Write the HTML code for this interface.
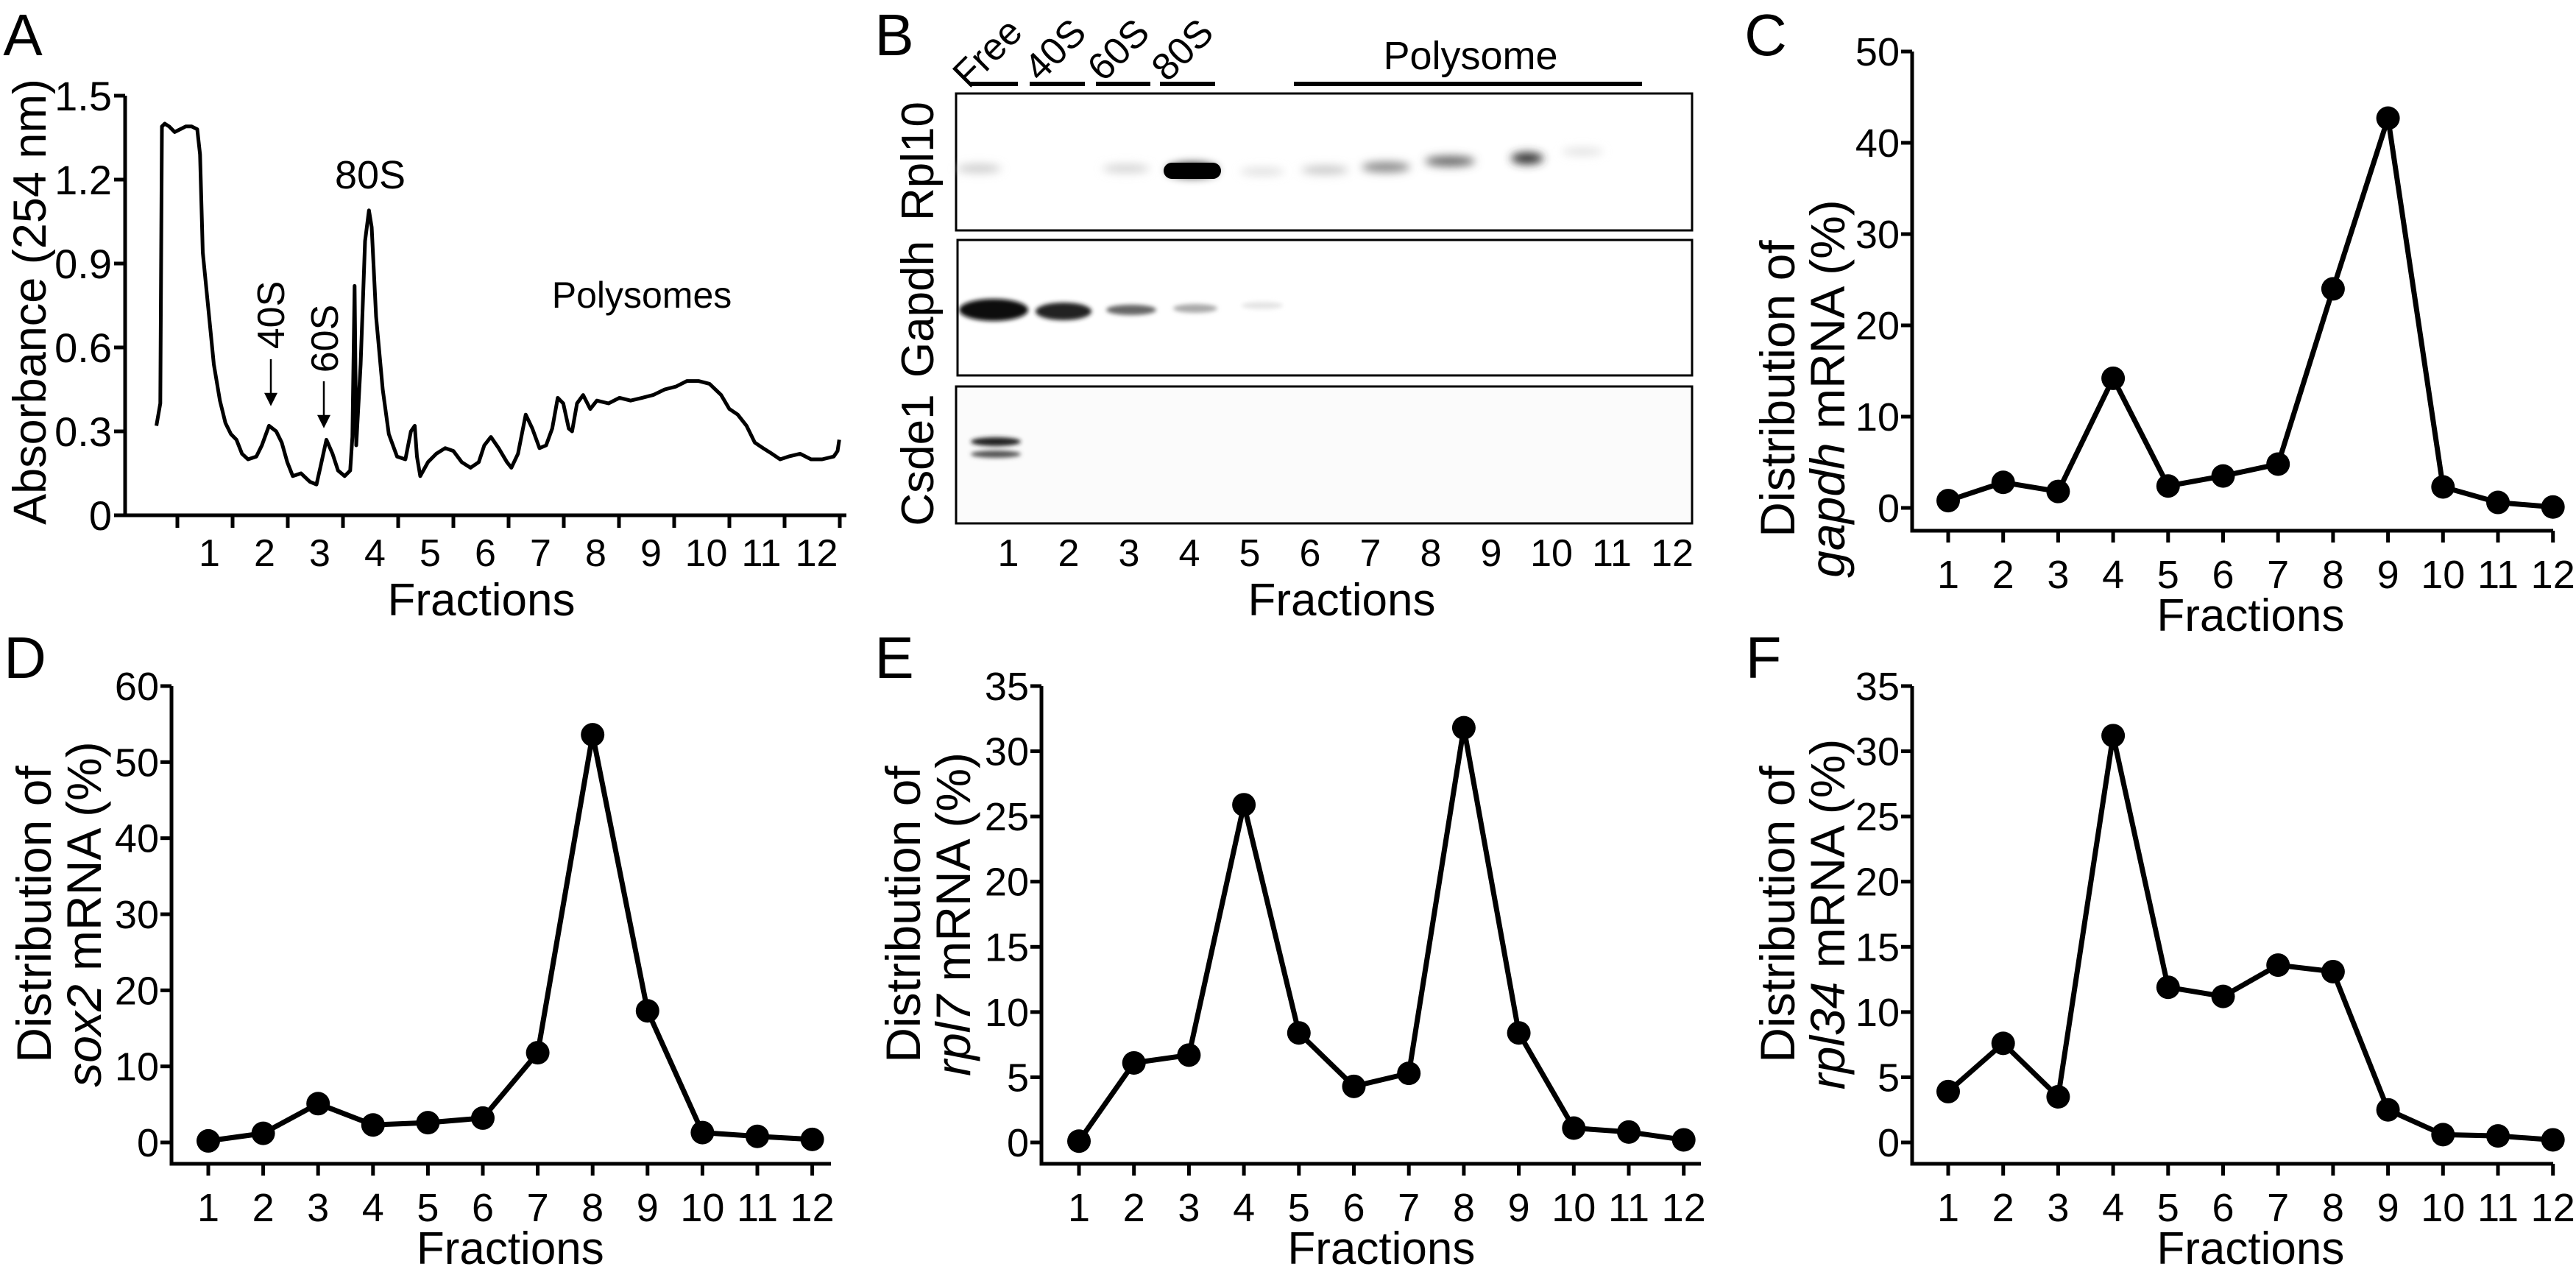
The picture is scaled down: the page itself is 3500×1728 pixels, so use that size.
<!DOCTYPE html>
<html><head><meta charset="utf-8"><style>
html,body{margin:0;padding:0;background:#fff;}
svg{display:block;font-family:"Liberation Sans",Arial,sans-serif;}
</style></head><body>
<svg id="fig" width="3500" height="1728" viewBox="0 0 3500 1728" xmlns="http://www.w3.org/2000/svg">
<defs>
<filter id="blur6" x="-50%" y="-100%" width="200%" height="300%"><feGaussianBlur stdDeviation="6"/></filter>
<filter id="blur3" x="-50%" y="-100%" width="200%" height="300%"><feGaussianBlur stdDeviation="3"/></filter>
</defs>
<g id="panelA"></g>
<g id="panelB">
  <text x="1215" y="75" font-size="80" text-anchor="middle">B</text>
  <g stroke="#000" stroke-width="6">
    <line x1="1317" y1="114" x2="1383" y2="114"/>
    <line x1="1399" y1="114" x2="1474" y2="114"/>
    <line x1="1489" y1="114" x2="1563" y2="114"/>
    <line x1="1576" y1="114" x2="1651" y2="114"/>
    <line x1="1758" y1="114" x2="2231" y2="114"/>
  </g>
  <text transform="translate(1354,84) rotate(-45)" font-size="52" text-anchor="middle">Free</text>
  <text transform="translate(1446,80) rotate(-45)" font-size="52" text-anchor="middle">40S</text>
  <text transform="translate(1532,80) rotate(-45)" font-size="52" text-anchor="middle">60S</text>
  <text transform="translate(1619,80) rotate(-45)" font-size="52" text-anchor="middle">80S</text>
  <text x="1998" y="94" font-size="54" text-anchor="middle">Polysome</text>

  <g>
    <rect x="1299" y="127" width="1000" height="186" fill="#fff" stroke="#000" stroke-width="3"/>
    <g filter="url(#blur6)">
      <ellipse cx="1330" cy="229" rx="30" ry="6" fill="#ccc"/>
      <ellipse cx="1530" cy="229" rx="32" ry="6" fill="#d4d4d4"/>
      <ellipse cx="1620" cy="231" rx="34" ry="9" fill="#000"/>
      <ellipse cx="1715" cy="233" rx="30" ry="5" fill="#ddd"/>
      <ellipse cx="1800" cy="231" rx="32" ry="6" fill="#c8c8c8"/>
      <ellipse cx="1883" cy="227" rx="33" ry="7" fill="#888"/>
      <ellipse cx="1970" cy="219" rx="34" ry="7" fill="#666"/>
      <ellipse cx="2075" cy="215" rx="22" ry="8" fill="#333"/>
      <ellipse cx="2150" cy="206" rx="28" ry="5" fill="#e0e0e0"/>
    </g>
    <rect x="1581" y="221" width="78" height="22" rx="11" fill="#000"/>
  </g>
  <text transform="translate(1268,219) rotate(-90)" font-size="62" text-anchor="middle">Rpl10</text>

  <g>
    <rect x="1301" y="326" width="998" height="184" fill="#fff" stroke="#000" stroke-width="3"/>
    <g filter="url(#blur3)">
      <ellipse cx="1350" cy="421" rx="47" ry="15" fill="#111"/>
      <ellipse cx="1445" cy="423" rx="38" ry="12" fill="#222"/>
      <ellipse cx="1537" cy="421" rx="34" ry="7" fill="#666"/>
      <ellipse cx="1624" cy="419" rx="30" ry="6" fill="#aaa"/>
      <ellipse cx="1715" cy="415" rx="28" ry="5" fill="#e4e4e4"/>
    </g>
  </g>
  <text transform="translate(1268,420) rotate(-90)" font-size="62" text-anchor="middle">Gapdh</text>

  <g>
    <rect x="1299" y="525" width="1000" height="186" fill="#fbfbfb" stroke="#000" stroke-width="3"/>
    <g filter="url(#blur3)">
      <ellipse cx="1353" cy="600" rx="34" ry="6" fill="#222"/>
      <ellipse cx="1353" cy="617" rx="34" ry="5" fill="#555"/>
    </g>
  </g>
  <text transform="translate(1268,625) rotate(-90)" font-size="62" text-anchor="middle">Csde1</text>
  <g id="laneLabels"></g>
  <text x="1823" y="836" font-size="62" text-anchor="middle">Fractions</text>
</g>
<g id="panelC"></g>
<g id="panelD"></g>
<g id="panelE"></g>
<g id="panelF"></g>
</svg>
<script>
// ---- Panel A data (absorbance trace) ----
const absPos = [-0.38,-0.31,-0.28,-0.23,-0.15,-0.05,0.05,0.15,0.26,0.36,0.41,0.46,0.56,0.66,0.77,0.87,0.97,1.07,1.17,1.28,1.43,1.53,1.66,1.79,1.89,1.99,2.09,2.24,2.40,2.52,2.60,2.70,2.81,2.91,3.03,3.13,3.17,3.21,3.24,3.32,3.40,3.47,3.52,3.60,3.72,3.83,3.98,4.13,4.23,4.30,4.34,4.40,4.54,4.69,4.85,5.00,5.15,5.31,5.46,5.56,5.68,5.82,5.97,6.05,6.17,6.31,6.43,6.56,6.68,6.79,6.89,6.99,7.09,7.15,7.24,7.35,7.48,7.60,7.81,8.01,8.21,8.42,8.62,8.83,9.03,9.23,9.44,9.64,9.85,10.0,10.15,10.31,10.46,10.61,10.77,10.92,11.07,11.28,11.48,11.68,11.89,11.96,11.99];
const absVal = [0.32,0.40,1.39,1.40,1.39,1.37,1.38,1.39,1.39,1.38,1.29,0.94,0.74,0.54,0.41,0.33,0.29,0.27,0.22,0.20,0.21,0.25,0.32,0.30,0.26,0.19,0.14,0.15,0.12,0.11,0.18,0.27,0.22,0.16,0.14,0.16,0.28,0.82,0.25,0.54,0.98,1.09,1.03,0.71,0.45,0.29,0.21,0.20,0.30,0.32,0.21,0.14,0.19,0.22,0.24,0.23,0.19,0.17,0.19,0.25,0.28,0.24,0.19,0.17,0.22,0.36,0.31,0.24,0.25,0.31,0.42,0.40,0.31,0.30,0.40,0.43,0.38,0.41,0.40,0.42,0.41,0.42,0.43,0.45,0.46,0.48,0.48,0.47,0.43,0.38,0.36,0.32,0.26,0.24,0.22,0.20,0.21,0.22,0.20,0.20,0.21,0.23,0.27];
const absTicks = [0,0.3,0.6,0.9,1.2,1.5];
const absTickLabels = ["0","0.3","0.6","0.9","1.2","1.5"];
const fractions = [1,2,3,4,5,6,7,8,9,10,11,12];

// ---- Panels C-F data ----
const gapdhVals = [0.8,2.8,1.8,14.2,2.4,3.5,4.8,24.0,42.7,2.3,0.6,0.1];
const sox2Vals  = [0.2,1.2,5.1,2.3,2.6,3.2,11.8,53.6,17.3,1.3,0.8,0.4];
const rpl7Vals  = [0.1,6.1,6.7,25.9,8.4,4.3,5.3,31.8,8.4,1.1,0.8,0.2];
const rpl34Vals = [3.9,7.6,3.5,31.2,11.9,11.2,13.6,13.1,2.5,0.6,0.5,0.2];
const gapdhTicks = [0,10,20,30,40,50];
const sox2Ticks  = [0,10,20,30,40,50,60];
const rpl7Ticks  = [0,5,10,15,20,25,30,35];
const rpl34Ticks = [0,5,10,15,20,25,30,35];

const NS="http://www.w3.org/2000/svg";
function mk(parent, tag, attrs, text){
  const e=document.createElementNS(NS,tag);
  for(const k in attrs) e.setAttribute(k,attrs[k]);
  if(text!==undefined) e.textContent=text;
  parent.appendChild(e); return e;
}

// ---------- Panel A ----------
(function(){
  const g=document.getElementById('panelA');
  const x0=241, dx=75.0, y0=700, yTop=130, vmax=1.5;
  const xs=u=>x0+u*dx, ys=v=>y0-(v/vmax)*(y0-yTop);
  const lab=mk(g,'text',{x:31,y:75,'font-size':80,'text-anchor':'middle'},'A');
  
  
  const ax=mk(g,'path',{d:`M170 ${yTop} V${y0} H1150`,fill:'none',stroke:'#000','stroke-width':5});
  
  
  absTicks.forEach((t,i)=>{
    const tk=mk(g,'line',{x1:155,x2:170,y1:ys(t),y2:ys(t),stroke:'#000','stroke-width':5});
    
    
    const tl=mk(g,'text',{x:152,y:ys(t)+20,'font-size':56,'text-anchor':'end'},absTickLabels[i]);
    
    
  });
  for(let k=0;k<=12;k++){
    const tk=mk(g,'line',{x1:xs(k),x2:xs(k),y1:y0,y2:y0+17,stroke:'#000','stroke-width':5});
    
    
  }
  fractions.forEach(f=>{
    const tl=mk(g,'text',{x:xs(f-0.5)+6,y:769,'font-size':52,'text-anchor':'middle'},String(f));
    
    
  });
  const xt=mk(g,'text',{x:654,y:836,'font-size':62,'text-anchor':'middle'},'Fractions');
  
  
  const yt=mk(g,'text',{transform:'translate(62,410) rotate(-90)','font-size':63,'text-anchor':'middle'},'Absorbance (254 nm)');
  
  
  const d=absPos.map((u,i)=>(i?'L':'M')+xs(u).toFixed(1)+' '+ys(absVal[i]).toFixed(1)).join(' ');
  const tr=mk(g,'path',{d:d,fill:'none',stroke:'#000','stroke-width':5,'stroke-linejoin':'round'});
  
  
  const a80=mk(g,'text',{x:503,y:256,'font-size':54,'text-anchor':'middle'},'80S');
  
  
  const ap=mk(g,'text',{x:872,y:418,'font-size':50,'text-anchor':'middle'},'Polysomes');
  
  
  const a40=mk(g,'text',{transform:'translate(386,428) rotate(-90)','font-size':52,'text-anchor':'middle'},'40S');
  
  
  const a60=mk(g,'text',{transform:'translate(459,460) rotate(-90)','font-size':52,'text-anchor':'middle'},'60S');
  
  
  [[368,488,549],[440,518,579]].forEach((a,i)=>{
    const ar=mk(g,'path',{d:`M${a[0]} ${a[1]} V${a[2]-12} M${a[0]-7} ${a[2]-14} L${a[0]} ${a[2]} L${a[0]+7} ${a[2]-14} Z`,stroke:'#000','stroke-width':2.5,fill:'#000'});
    
    
  });
})();

// ---------- Panel B lane labels ----------
(function(){
  const g=document.getElementById('laneLabels');
  const lx0=1370, ldx=82.0;
  fractions.forEach(f=>{
    const t=mk(g,'text',{x:lx0+(f-1)*ldx,y:769,'font-size':52,'text-anchor':'middle'},String(f));
    
    
  });
})();

// ---------- Line charts C-F ----------
function lineChart(id, letter, L, vals, ticks, gene, o){
  const g=document.getElementById(id);
  const ymax=ticks[ticks.length-1];
  const xs=f=>o.xTick1+(f-1)*o.dx;
  const ys=v=>o.y0-(v/ymax)*(o.y0-o.yTop);
  const lab=mk(g,'text',{x:L.x,y:L.y,'font-size':80,'text-anchor':'middle'},letter);
  
  
  const ax=mk(g,'path',{d:`M${o.ax} ${o.yTop} V${o.axY} H${o.axEnd}`,fill:'none',stroke:'#000','stroke-width':5});
  
  
  ticks.forEach(t=>{
    const tk=mk(g,'line',{x1:o.ax-15,x2:o.ax,y1:ys(t),y2:ys(t),stroke:'#000','stroke-width':5});
    
    
    const tl=mk(g,'text',{x:o.ax-17,y:ys(t)+19,'font-size':54,'text-anchor':'end'},String(t));
    
    
  });
  fractions.forEach(f=>{
    const tk=mk(g,'line',{x1:xs(f),x2:xs(f),y1:o.axY,y2:o.axY+16,stroke:'#000','stroke-width':5});
    
    
    const tl=mk(g,'text',{x:xs(f),y:o.axY+78,'font-size':54,'text-anchor':'middle'},String(f));
    
    
  });
  const xt=mk(g,'text',{x:(xs(1)+xs(12))/2,y:o.axY+136,'font-size':62,'text-anchor':'middle'},'Fractions');
  
  
  const yt=mk(g,'text',{transform:`translate(${o.t1},${o.tc}) rotate(-90)`,'font-size':66,'text-anchor':'middle'},'Distribution of');
  
  
  const yt2=mk(g,'text',{transform:`translate(${o.t2},${o.tc}) rotate(-90)`,'font-size':66,'text-anchor':'middle'});
  
  
  mk(yt2,'tspan',{'font-style':'italic'},gene);
  mk(yt2,'tspan',{},' mRNA (%)');
  const d=vals.map((v,i)=>(i?'L':'M')+xs(i+1)+' '+ys(v).toFixed(1)).join(' ');
  const ln=mk(g,'path',{d:d,fill:'none',stroke:'#000','stroke-width':7,'stroke-linejoin':'round'});
  
  
  vals.forEach((v,i)=>{
    const c=mk(g,'circle',{cx:xs(i+1),cy:ys(v),r:16,fill:'#000'});
    
    
  });
}
lineChart('panelC','C',{x:2399,y:75},gapdhVals,gapdhTicks,'gapdh',
  {ax:2598,yTop:70,y0:690,axY:721,axEnd:3469,xTick1:2647,dx:74.7,t1:2438,t2:2506,tc:528});
lineChart('panelD','D',{x:34,y:921},sox2Vals,sox2Ticks,'sox2',
  {ax:233,yTop:932,y0:1552,axY:1581,axEnd:1129,xTick1:283,dx:74.6,t1:69,t2:137,tc:1242});
lineChart('panelE','E',{x:1215,y:921},rpl7Vals,rpl7Ticks,'rpl7',
  {ax:1415,yTop:932,y0:1552,axY:1581,axEnd:2311,xTick1:1466,dx:74.7,t1:1250,t2:1318,tc:1242});
lineChart('panelF','F',{x:2396,y:921},rpl34Vals,rpl34Ticks,'rpl34',
  {ax:2598,yTop:932,y0:1552,axY:1581,axEnd:3469,xTick1:2647,dx:74.7,t1:2438,t2:2506,tc:1242});
</script>
</body></html>
